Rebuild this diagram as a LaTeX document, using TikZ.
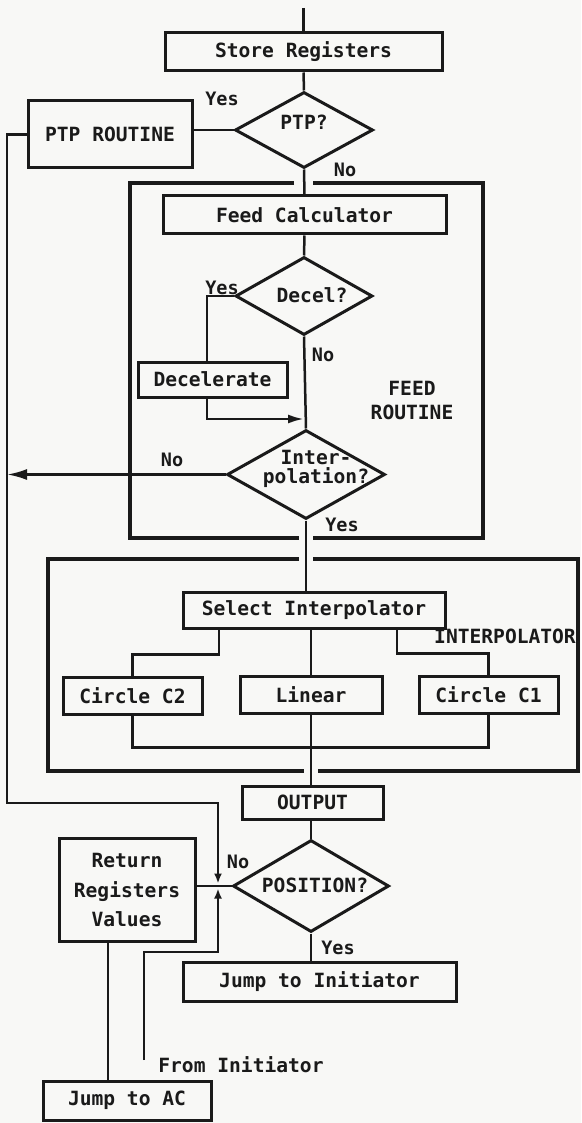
\documentclass[tikz,border=0pt]{standalone}
\usepackage{fontspec}
\setmainfont{DejaVu Sans Mono}
\usetikzlibrary{arrows.meta,shapes.geometric}
\definecolor{ink}{HTML}{1A1A1A}
\definecolor{paper}{HTML}{F8F8F6}
\begin{document}
\begin{tikzpicture}[x=1pt,y=-1pt,
  txt/.style={font=\fontsize{19.6}{24}\selectfont\bfseries, text=ink, align=center},
  bx/.style 2 args={draw=ink, line width=3pt, inner sep=0pt, txt,
    minimum width=#1pt, minimum height=#2pt},
  dx/.style 2 args={draw=ink, diamond, line width=3pt, inner sep=0pt,
    minimum width=#1pt, minimum height=#2pt},
  lab/.style={font=\fontsize{18.5}{20}\selectfont\bfseries, text=ink, inner sep=0pt},
  conn/.style={draw=ink, line width=2.5pt},
  frame/.style={draw=ink, line width=3.8pt},
  arrA/.style={-{Latex[length=16pt,width=9pt]}},
  arrB/.style={-{Latex[length=20pt,width=11pt]}},
  arrC/.style={-{Latex[length=10pt,width=8pt]}}]
\useasboundingbox (0,0) rectangle (581,1123);
\fill[paper] (0,0) rectangle (581,1123);

% containers
\draw[frame] (294,183) -- (130,183) -- (130,538) -- (299,538);
\draw[frame] (313,538) -- (483,538) -- (483,183) -- (313,183);
\draw[frame] (299,559) -- (48,559) -- (48,771) -- (304,771);
\draw[frame] (318,771) -- (578,771) -- (578,559) -- (313,559);

% nodes
\coordinate (top) at (303.5,8);
\node[bx={277}{38}] (store) at (303.5,52) {Store Registers};
\node[dx={138}{76}] (ptp) at (304,130) {};
\node[txt] (ptpt) at (304,122) {PTP?};
\node[bx={164}{67}] (ptpr) at (110,134.5) {PTP ROUTINE};
\node[bx={283}{38}] (fcalc) at (304.5,215) {Feed Calculator};
\node[dx={137}{78}] (decel) at (304,296) {};
\node[txt] (decelt) at (312,295) {Decel?};
\node[bx={149}{35}] (decbox) at (212.5,379.5) {Decelerate};
\node[dx={158}{89}] (interp) at (306,474.5) {};
\node[txt, font=\fontsize{19.6}{19}\selectfont\bfseries] (interpt) at (316,469) {Inter-\\polation?};
\node[txt, font=\fontsize{19.6}{24}\selectfont\bfseries] (feedt) at (412,400) {FEED\\ROUTINE};
\node[bx={262}{36}] (select) at (314,610) {Select Interpolator};
\node[txt] (interpl) at (505,636) {INTERPOLATOR};
\node[bx={139}{37}] (c2) at (132.5,695.5) {Circle C2};
\node[bx={142}{37}] (lin) at (311,694.5) {Linear};
\node[bx={139}{37}] (c1) at (488.5,694.5) {Circle C1};
\node[bx={141}{33}] (out) at (312.5,802.5) {OUTPUT};
\node[dx={156}{92}] (pos) at (311,886) {};
\node[txt] (post) at (315,885) {POSITION?};
\node[bx={136}{103}, font=\fontsize{19.6}{29.5}\selectfont\bfseries] (ret) at (127,890) {Return\\Registers\\Values};
\node[bx={273}{39}] (jinit) at (319.5,981.5) {Jump to Initiator};
\node[bx={168}{39}] (jac) at (127,1100.5) {Jump to AC};
\node[txt] (fromt) at (241,1065) {From Initiator};

% labels
\node[lab] (y1) at (222,99) {Yes};
\node[lab] (n1) at (345,170) {No};
\node[lab] (y2) at (222,288) {Yes};
\node[lab] (n2) at (323,355) {No};
\node[lab] (n3) at (172,460) {No};
\node[lab] (y3) at (342,525) {Yes};
\node[lab] (n4) at (238,862) {No};
\node[lab] (y4) at (338,948) {Yes};

% helper coordinates
\coordinate (lp) at (7,803);
\coordinate (dj) at (304,419);
\coordinate (merge) at (218,886);
\coordinate (fi) at (144,1060);
\coordinate (fib) at (144,952);

% connectors
\draw[conn] (top) -- (store.north);
\draw[conn] (store.south) -- (ptp.north);
\draw[conn] (ptp.west) -- (ptp.west -| ptpr.east);
\draw[conn] (ptp.south) -- (fcalc.north);
\draw[conn] (fcalc.south) -- (decel.north);
\draw[conn] (decel.west) -| ([xshift=-5.5pt]decbox.north);
\draw[conn,arrA] ([xshift=-5.5pt]decbox.south) |- (dj);
\draw[conn] (decel.south) -- (interp.north);
\draw[conn,arrB] (interp.west) -- (interp.west -| lp);
\draw[conn] (interp.south) -- (interp.south |- select.north);
\draw[conn] (lin.north |- select.south) -- (lin.north);
\draw[conn] ([xshift=-95pt]select.south) -- ++(0,25) -| (c2.north);
\draw[conn] ([xshift=83pt]select.south) -- ++(0,24) -| (c1.north);
\draw[conn] (c2.south) -- ++(0,32) -| (c1.south);
\draw[conn] (lin.south) -- (lin.south |- out.north);
\draw[conn] (pos.north |- out.south) -- (pos.north);
\draw[conn] (pos.south) -- (pos.south |- jinit.north);
\draw[conn] (pos.west) -- (pos.west -| ret.east);
\draw[conn,arrC] (ptpr.west) -| (lp) -| ([yshift=2.5pt]merge);
\draw[conn,arrC] (fi) -- (fib) -| ([yshift=-2.5pt]merge);
\draw[conn] ([xshift=-19pt]ret.south) -- ([xshift=-19pt]ret.south |- jac.north);
\end{tikzpicture}
\end{document}
